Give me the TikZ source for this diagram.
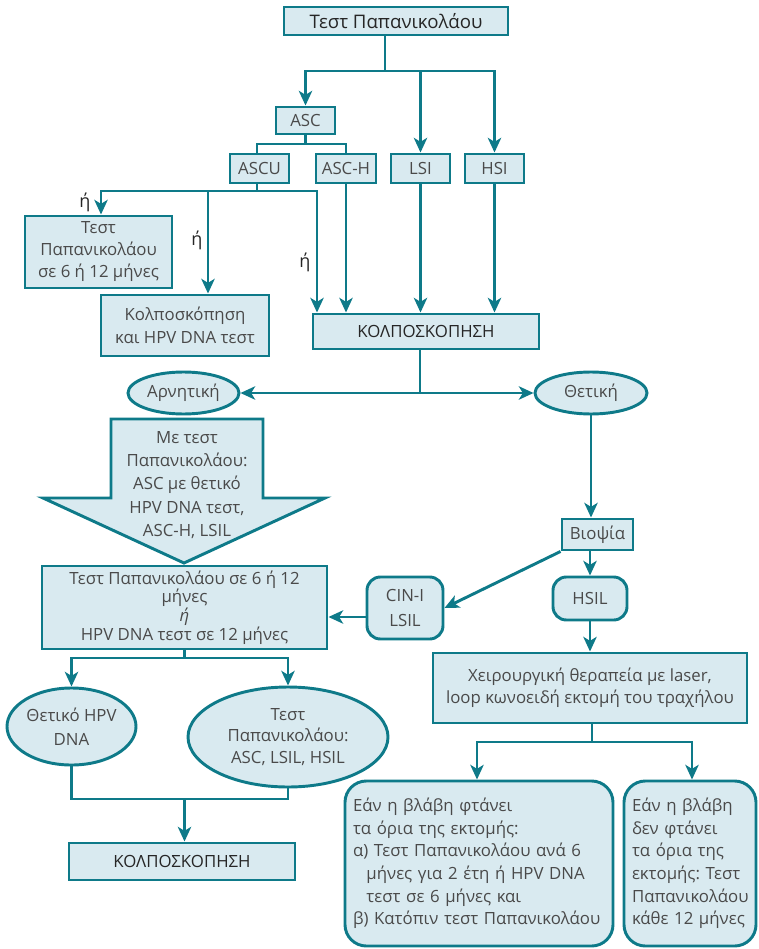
\documentclass[tikz,border=0pt]{standalone}
\usepackage{fontspec}
\setmainfont{Open Sans}
\usepackage{xcolor}
\usetikzlibrary{arrows.meta, positioning, calc, shapes.geometric}
\definecolor{tealline}{HTML}{0E7A89}
\definecolor{palefill}{HTML}{D9EAF0}
\definecolor{greytext}{HTML}{4A4A4A}
\frenchspacing

\begin{document}
\begin{tikzpicture}[x=0.75pt, y=-0.75pt, font=\fontsize{12.6}{17}\selectfont, line width=2.2pt, line join=miter]
		\tikzset{
			box/.style={draw=tealline, fill=palefill, text=greytext, inner sep=0pt, align=center},
			rbox/.style={box, rounded corners=10pt},
			textbox/.style={box, rounded corners=16pt, align=left, inner sep=6pt, anchor=center},
			oval/.style={box, ellipse, inner sep=0pt},
			dark/.style={text=black!85},
			lnk/.style={draw=tealline},
			arr/.style={lnk, -{Stealth[length=11pt, width=10pt, inset=3pt]}},
			orword/.style={text=black!85, font=\fontsize{13.5}{15}\selectfont}
		}
		\useasboundingbox (0,0) rectangle (758,949);
		
		% top part
		\node[box, dark, minimum width=168pt, minimum height=21pt, font=\fontsize{14}{16}\selectfont] (pap) at (396,21) {Τεστ Παπανικολάου};
		\node[box, minimum width=44.25pt, minimum height=20.25pt] (asc) at (305.5,120.5) {ASC};
		\node[box, minimum width=44.25pt, minimum height=21.75pt] (ascu) at (259.5,168.5) {ASCU};
		\node[box, minimum width=45pt, minimum height=21.75pt] (asch) at (346,168.5) {ASC-H};
		\node[box, minimum width=44.25pt, minimum height=21.75pt] (lsi) at (420.5,168.5) {LSI};
		\node[box, minimum width=44.25pt, minimum height=21.75pt] (hsi) at (494.5,168.5) {HSI};
		
		\node[box, minimum width=110.25pt, minimum height=54pt, font=\fontsize{12.6}{16.5}\selectfont] (pap6) at (98.5,252) {Τεστ\\Παπανικολάου\\σε 6 ή 12 μήνες};
		\node[box, minimum width=126pt, minimum height=45.75pt] (kolhpv) at (185,325.5) {Κολποσκόπηση\\και HPV DNA τεστ};
		\node[box, dark, minimum width=169.5pt, minimum height=26.25pt] (kolpo) at (426,331.5) {ΚΟΛΠΟΣΚΟΠΗΣΗ};
		
		\node[orword] (or1) at (85,202) {ή};
		\node[orword] (or2) at (197,240) {ή};
		\node[orword] (or3) at (305,262) {ή};
		
		\coordinate (j1) at (385,71);
		\draw[lnk] (pap.south -| j1) -- (j1);
		\draw[arr] (j1) -| (asc);
		\draw[arr] (j1) -| (lsi);
		\draw[arr] (j1) -| (hsi);
		
		\coordinate (j2) at (305.5,144);
		\draw[lnk] (asc) -- (j2);
		\draw[lnk] (j2) -| (ascu.north -| 257,0);
		\draw[lnk] (j2) -| (asch);
		
		\coordinate (j3) at (257,191);
		\coordinate (c2) at (208,191);
		\coordinate (c3) at (317,191);
		\draw[lnk] (ascu.south -| j3) -- (j3);
		\draw[arr] (j3) -| (pap6.north -| 101,0);
		\draw[arr] (j3) -- (c2) -- (c2 |- kolhpv.north);
		\draw[arr] (j3) -- (c3) -- (c3 |- kolpo.north);
		\draw[arr] (asch) -- (asch |- kolpo.north);
		\draw[arr] (lsi) -- (lsi |- kolpo.north);
		\draw[arr] (hsi) -- (hsi |- kolpo.north);
		
		% result of colposcopy
		\node[oval, minimum width=83.25pt, minimum height=31.5pt] (neg) at (183.5,393) {Αρνητική};
		\node[oval, minimum width=84pt, minimum height=31.5pt] (pos) at (591,393) {Θετική};
		\coordinate (j4) at (420,393);
		\draw[lnk] (kolpo.south -| j4) -- (j4);
		\draw[arr] (j4) -- (neg);
		\draw[arr] (j4) -- (pos);
		
		% negative branch
		\draw[lnk, fill=palefill] (111,419) -- (263,419) -- (263,498) -- (325,498) -- (184,563) -- (43,498) -- (111,498) -- cycle;
		\node[text=greytext, align=center, font=\fontsize{12.6}{17.5}\selectfont] (metest) at (187,485) {Με τεστ\\Παπανικολάου:\\ASC με θετικό\\HPV DNA τεστ,\\ASC-H, LSIL};
		\node[box, minimum width=213.75pt, minimum height=62.25pt, font=\fontsize{12.6}{14}\selectfont] (bx6) at (184.5,607.5) {Τεστ Παπανικολάου σε 6 ή 12\\μήνες\\{\itshape ή}\\HPV DNA τεστ σε 12 μήνες};
		
		\node[oval, minimum width=96.75pt, minimum height=57.75pt, font=\fontsize{12.6}{18}\selectfont] (poshpv) at (71.5,726.5) {Θετικό HPV\\DNA};
		\node[oval, minimum width=150pt, minimum height=75pt, font=\fontsize{12.6}{16}\selectfont] (papasc) at (288,737) {Τεστ\\Παπανικολάου:\\ASC, LSIL, HSIL};
		\coordinate (j5) at (184.5,658);
		\draw[lnk] (bx6) -- (j5);
		\draw[arr] (j5) -| (poshpv);
		\draw[arr] (j5) -| (papasc);
		
		\node[box, dark, minimum width=169.5pt, minimum height=27.75pt] (kolpo2) at (182,861.5) {ΚΟΛΠΟΣΚΟΠΗΣΗ};
		\coordinate (j6) at (184.5,799);
		\draw[lnk] (poshpv) |- (j6);
		\draw[lnk] (papasc) |- (j6);
		\draw[arr] (j6) -- (j6 |- kolpo2.north);
		
		% positive branch
		\node[box, minimum width=53.25pt, minimum height=23.25pt] (biop) at (597.5,534.5) {Βιοψία};
		\node[rbox, minimum width=57pt, minimum height=46.5pt, font=\fontsize{12.6}{18.5}\selectfont] (cin) at (405,608) {CIN-I\\LSIL};
		\node[rbox, minimum width=55.5pt, minimum height=32.25pt] (hsil) at (590,598.5) {HSIL};
		\draw[arr] (pos) -- (pos |- biop.north);
		\draw[arr] (biop.south west) -- (cin.east);
		\draw[arr] (biop.south -| hsil) -- (hsil);
		\draw[arr] ([yshift=-6.75pt]cin.west) -- ([yshift=-6.75pt]cin.west -| bx6.east);
		
		\node[box, minimum width=235.5pt, minimum height=52.5pt, font=\fontsize{12.6}{16.5}\selectfont] (surg) at (590,688) {Χειρουργική θεραπεία με laser,\\loop κωνοειδή εκτομή του τραχήλου};
		\draw[arr] (hsil) -- (surg);
		
		\node[textbox, text width=189pt, minimum height=123.75pt] (reach) at (479,863.5) {Εάν η βλάβη φτάνει\\τα όρια της εκτομής:\\α) Τεστ Παπανικολάου ανά 6\\\hspace*{0.8em}μήνες για 2 έτη ή HPV DNA\\\hspace*{0.8em}τεστ σε 6 μήνες και\\β) Κατόπιν τεστ Παπανικολάου};
		\node[textbox, text width=87pt, minimum height=123.75pt] (noreach) at (690,863.5) {Εάν η βλάβη\\δεν φτάνει\\τα όρια της\\εκτομής: Τεστ\\Παπανικολάου\\κάθε 12 μήνες};
		\coordinate (j7) at (592,742);
		\draw[lnk] (surg.south -| j7) -- (j7);
		\draw[arr] (j7) -| (reach.north -| 477,0);
		\draw[arr] (j7) -| (noreach.north -| 692,0);
	\end{tikzpicture}
\end{document}
